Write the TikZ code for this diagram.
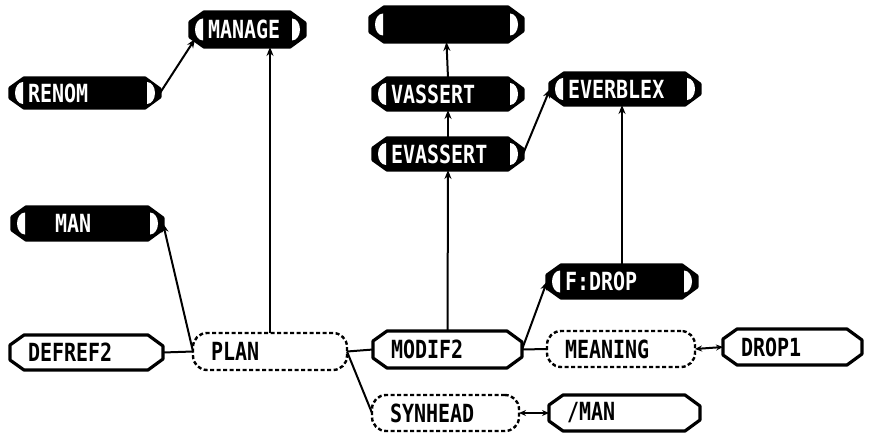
\documentclass[tikz,border=0pt]{standalone}
\usepackage{fontspec}
\setmainfont{DejaVu Sans Mono}[FakeStretch=0.8]
\usetikzlibrary{calc,arrows.meta}
\pgfdeclarelayer{back}
\pgfdeclarelayer{bg}
\pgfsetlayers{back,bg,main}
\newcommand\octo[2]{%
  \begin{pgfonlayer}{bg}
  \path[#1] ($(#2.north west)+(14,0)$) -- ($(#2.north east)+(-15,0)$) -- ($(#2.north east)+(0,-11)$) -- ($(#2.south east)+(0,11)$) -- ($(#2.south east)+(-15,0)$) -- ($(#2.south west)+(14,0)$) -- ($(#2.south west)+(0,10)$) -- ($(#2.north west)+(0,-10)$) -- cycle;
  \end{pgfonlayer}}
\newcommand\holes[1]{%
  \begin{pgfonlayer}{bg}
  \fill[white] ($(#1.west)+(13,11)$) arc[start angle=90,end angle=270,x radius=8,y radius=11] -- cycle;
  \fill[white] ($(#1.east)+(-13,11)$) arc[start angle=90,end angle=-90,x radius=8,y radius=11] -- cycle;
  \end{pgfonlayer}}
\begin{document}
\begin{tikzpicture}[x=1pt,y=1pt,
  lbl/.style={rectangle, inner xsep=18pt, inner ysep=0pt, outer sep=0pt, minimum height=33pt, align=left, font=\fontsize{25pt}{26pt}\selectfont\bfseries},
  wnode/.style={lbl, text=black},
  bnode/.style={lbl, text=white},
  dnode/.style={lbl, draw, line width=2.4pt, dash pattern=on 4pt off 2.5pt, rounded corners=14pt},
  octw/.style={draw, line width=3.2pt, fill=white, line join=round},
  octb/.style={draw, line width=3.2pt, fill=black, line join=round},
  conn/.style={line width=2pt},
  arr/.style={conn, -{Stealth[length=9pt,width=7pt]}},
  darr/.style={conn, {Stealth[length=7pt,width=6pt]}-{Stealth[length=7pt,width=6pt]}},
]
\begin{pgfonlayer}{back}
\fill[white] (0,0) rectangle (877,432);
\end{pgfonlayer}
\useasboundingbox (0,0) rectangle (877,432);

% black nodes
\node[bnode, text width=79pt, minimum height=35pt] (m) at (247.5,402.5) {MANAGE};
\node[bnode, text width=117pt, minimum height=35pt] (top) at (446.5,407.5) {};
\node[bnode, text width=114pt, minimum height=30pt] (renom) at (85,339) {RENOM};
\node[bnode, text width=114pt, minimum height=32pt] (vassert) at (448,338) {VASSERT};
\node[bnode, text width=114pt, minimum height=32pt] (everblex) at (625,343) {EVERBLEX};
\node[bnode, text width=114pt, minimum height=32pt] (evassert) at (448,278) {EVASSERT};
\node[bnode, text width=115pt, minimum height=33pt] (man) at (87.5,208.5) {\hspace*{25pt}MAN};
\node[bnode, text width=114pt, minimum height=33pt] (fdrop) at (622,150.5) {F:DROP};
\foreach \n in {m,top,renom,vassert,everblex,evassert,man,fdrop}{\octo{octb}{\n}\holes{\n}}

% white nodes
\node[wnode, text width=117pt, minimum height=35pt] (defref2) at (86.5,79.5) {DEFREF2};
\node[wnode, text width=113pt, minimum height=37pt] (modif2) at (447.5,82.5) {MODIF2};
\node[wnode, text width=103pt, minimum height=36pt] (drop1) at (792.5,85) {DROP1};
\node[wnode, text width=115pt, minimum height=36pt] (slashman) at (624.5,19) {/MAN};
\foreach \n in {defref2,modif2,drop1,slashman}{\octo{octw}{\n}}

% dashed nodes
\node[dnode, text width=118pt, minimum height=37pt] (plan) at (270,80.5) {PLAN};
\node[dnode, text width=112pt, minimum height=36pt] (meaning) at (621,83) {MEANING};
\node[dnode, text width=111pt, minimum height=36pt] (synhead) at (445.5,19) {SYNHEAD};

% connectors
\draw[arr] (renom.east) -- ($(m.south west)+(5,8)$);
\draw[arr] (plan.north) -- (plan.north |- m.south);
\draw[arr] (plan.west) -- (man.east);
\draw[conn] (defref2.east) -- (plan.west);
\draw[conn] (plan.east) -- (modif2.west);
\draw[conn] (plan.east) -- (synhead.west);
\draw[arr] (modif2.north) -- (evassert.south);
\draw[arr] (evassert.north) -- (vassert.south);
\draw[arr] (vassert.north) -- (top.south);
\draw[arr] (evassert.east) -- (everblex.west);
\draw[arr] (modif2.east) -- (fdrop.west);
\draw[arr] (fdrop.north) -- (fdrop.north |- everblex.south);
\draw[conn] (modif2.east) -- (meaning.west);
\draw[darr] (meaning.east) -- (drop1.west);
\draw[darr] (synhead.east) -- (slashman.west);
\end{tikzpicture}
\end{document}
